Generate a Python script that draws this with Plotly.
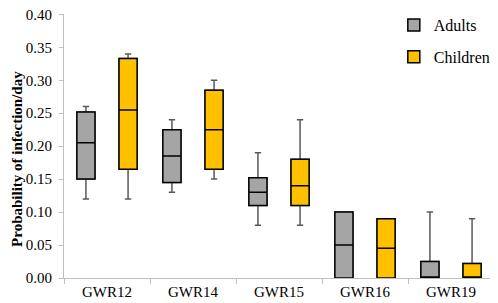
import plotly.graph_objects as go

categories = ["GWR12", "GWR14", "GWR15", "GWR16", "GWR19"]

adults_min = [0.12, 0.13, 0.08, 0.00, 0.00]
adults_q1 = [0.15, 0.145, 0.11, 0.00, 0.00]
adults_med = [0.205, 0.185, 0.13, 0.05, 0.00]
adults_q3 = [0.252, 0.225, 0.152, 0.10, 0.025]
adults_max = [0.26, 0.24, 0.19, 0.10, 0.10]

children_min = [0.12, 0.15, 0.08, 0.00, 0.00]
children_q1 = [0.165, 0.165, 0.11, 0.00, 0.00]
children_med = [0.255, 0.225, 0.14, 0.045, 0.00]
children_q3 = [0.333, 0.285, 0.18, 0.09, 0.022]
children_max = [0.34, 0.30, 0.24, 0.09, 0.09]

y_title = "Probability of infection/day"

FONT = "Liberation Serif"
fig = go.Figure()

series = [
    ("Adults", "#A5A5A5", adults_min, adults_q1, adults_med, adults_q3, adults_max, "A"),
    ("Children", "#FFC000", children_min, children_q1, children_med, children_q3, children_max, "C"),
]

for name, color, mn, q1, md, q3, mx, grp in series:
    # whiskers (grey) layer
    fig.add_trace(go.Box(
        x=categories, q1=q1, median=md, q3=q3, lowerfence=mn, upperfence=mx,
        name=name, fillcolor=color, line=dict(color="#595959", width=1.5),
        whiskerwidth=0.35, offsetgroup=grp, showlegend=False, hoverinfo="skip",
    ))
    # box (black outline) layer
    fig.add_trace(go.Box(
        x=categories, q1=q1, median=md, q3=q3, lowerfence=q1, upperfence=q3,
        name=name, fillcolor=color, line=dict(color="#000000", width=1.5),
        whiskerwidth=0, offsetgroup=grp, legendgroup=name,
    ))

plot_top = 6
plot_h = 295 - 25 - plot_top

fig.update_layout(
    width=490, height=295,
    margin=dict(l=56, r=4, t=plot_top, b=25, autoexpand=False),
    paper_bgcolor="white", plot_bgcolor="white",
    boxmode="group", boxgap=0.02, boxgroupgap=0.57,
    font=dict(family=FONT, size=15, color="#000000"),
    legend=dict(x=0.767, y=1.0 + plot_top / plot_h, xanchor="left", yanchor="top",
                font=dict(family=FONT, size=16), tracegroupgap=8,
                itemwidth=30, bgcolor="rgba(0,0,0,0)"),
    annotations=[dict(
        text="<b>" + y_title + "</b>", textangle=-90,
        xref="paper", yref="paper", x=-0.11, y=0.45,
        xanchor="center", yanchor="middle", showarrow=False,
        font=dict(family=FONT, size=15, color="#000000"),
    )],
)
fig.update_yaxes(
    range=[0, 0.4005], dtick=0.05, tick0=0, tickformat=".2f",
    showline=True, linecolor="#BFBFBF", linewidth=1,
    ticks="outside", ticklen=4, tickcolor="#BFBFBF",
    ticklabelstandoff=4, automargin=False, ticklabeloverflow="allow",
    showgrid=False, zeroline=False,
    tickfont=dict(family=FONT, size=15),
)
fig.update_xaxes(
    showline=True, linecolor="#BFBFBF", linewidth=1,
    ticks="outside", ticklen=5, tickcolor="#BFBFBF", tickson="boundaries",
    automargin=False, ticklabeloverflow="allow",
    showgrid=False, tickfont=dict(family=FONT, size=15),
)

fig.write_html("out.html")
